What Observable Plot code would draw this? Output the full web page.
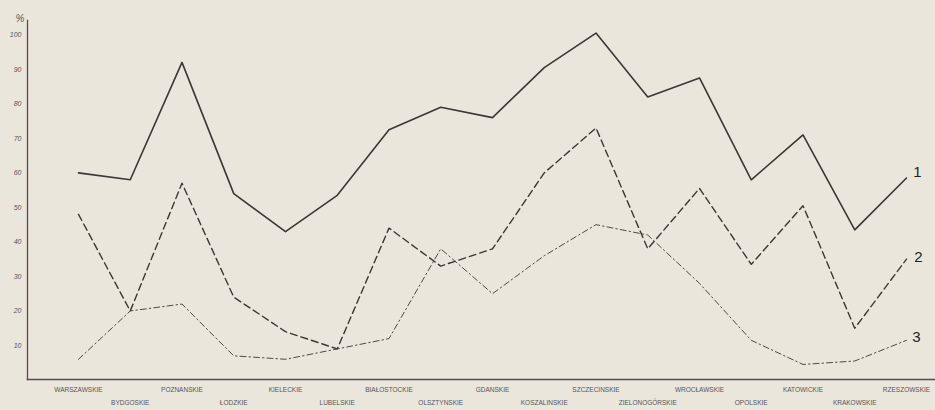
<!DOCTYPE html>
<html>
<head>
<meta charset="utf-8">
<script src="https://cdn.jsdelivr.net/npm/d3@7"></script>
<script src="https://cdn.jsdelivr.net/npm/@observablehq/plot@0.6"></script>
<style>
  html, body { margin: 0; padding: 0; background: #ebe6dc; }
  #chart svg { display: block; background: #ebe6dc; }
</style>
</head>
<body>
<div id="chart"></div>
<script>
const regions = ["WARSZAWSKIE","BYDGOSKIE","POZNANSKIE","ŁODZKIE","KIELECKIE","LUBELSKIE","BIAŁOSTOCKIE","OLSZTYNSKIE","GDANSKIE","KOSZALINSKIE","SZCZECINSKIE","ZIELONOGÓRSKIE","WROCŁAWSKIE","OPOLSKIE","KATOWICKIE","KRAKOWSKIE","RZESZOWSKIE"];
const series1 = [60, 58, 92, 54, 43, 53.5, 72.5, 79, 76, 90.5, 100.5, 82, 87.5, 58, 71, 43.5, 58.5];
const series2 = [48, 20, 57, 24, 14, 9, 44, 33, 38, 60, 73, 38, 55.5, 33.5, 50.5, 15, 35];
const series3 = [6, 20, 22, 7, 6, 9, 12, 38, 25, 36, 45, 42, 28, 11.5, 4.5, 5.5, 11.5];
const seriesNames = ["1", "2", "3"];
const yTicks = [10, 20, 30, 40, 50, 60, 70, 80, 90, 100];
const unitLabel = "%";

const allSeries = [series1, series2, series3];
const rows = allSeries.flatMap((vals, s) => vals.map((v, i) => ({region: regions[i], value: v, series: seriesNames[s]})));
const rowsOf = (s) => rows.filter(d => d.series === seriesNames[s]);
const lastOf = (s) => [rowsOf(s)[regions.length - 1]];
const ink = "#3a3835";

const chart = Plot.plot({
  width: 935,
  height: 410,
  marginLeft: 27,
  marginRight: 0,
  marginTop: 20,
  marginBottom: 31,
  style: {background: "#ebe6dc", fontFamily: "Liberation Sans, Arial, sans-serif", color: "#555"},
  x: {type: "point", domain: regions, range: [78, 906], padding: 0, round: false, axis: null},
  y: {domain: [0, 100], range: [379.5, 34.3], axis: null},
  marks: [
    Plot.frame({anchor: "left", stroke: "#5a4a50", strokeWidth: 1.3}),
    Plot.frame({anchor: "bottom", stroke: "#5a4a50", strokeWidth: 1.6}),
    Plot.axisY(yTicks, {anchor: "left", tickSize: 0, tickPadding: 6, fontSize: 7, fill: "#555", fontStyle: "italic", label: null}),
    Plot.text([unitLabel], {frameAnchor: "top-left", dx: -12, dy: -6, fontSize: 10, fill: "#555", fontStyle: "italic"}),
    Plot.lineY(rowsOf(0), {x: "region", y: "value", stroke: ink, strokeWidth: 1.6}),
    Plot.lineY(rowsOf(1), {x: "region", y: "value", stroke: ink, strokeWidth: 1.4, strokeDasharray: "7,4"}),
    Plot.lineY(rowsOf(2), {x: "region", y: "value", stroke: ink, strokeWidth: 0.9, strokeDasharray: "6,3,1.5,3"}),
    Plot.text(lastOf(0), {x: "region", y: "value", text: "series", dx: 11, dy: -6, fontSize: 15, fill: "#222"}),
    Plot.text(lastOf(1), {x: "region", y: "value", text: "series", dx: 12, dy: -2, fontSize: 15, fill: "#222"}),
    Plot.text(lastOf(2), {x: "region", y: "value", text: "series", dx: 10, dy: -3, fontSize: 15, fill: "#222"}),
    Plot.text(regions.filter((r, i) => i % 2 === 0), {x: d => d, frameAnchor: "bottom", dy: 12, fontSize: 6.5, fill: "#555", style: "letter-spacing: 1px"}),
    Plot.text(regions.filter((r, i) => i % 2 === 1), {x: d => d, frameAnchor: "bottom", dy: 25, fontSize: 6.5, fill: "#555", style: "letter-spacing: 1px"})
  ]
});
document.getElementById("chart").append(chart);
</script>
</body>
</html>
